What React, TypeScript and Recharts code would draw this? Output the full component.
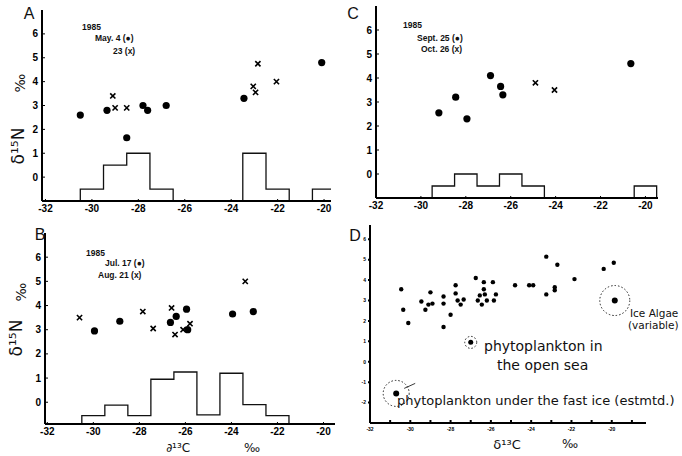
import React from "react";
import { ComposedChart, Line, Scatter, XAxis, YAxis } from "recharts";

// Panel A: 1985 May 4 (dots) / May 23 (crosses)
const A_DOT_X = [-30.5, -29.35, -28.5, -27.8, -27.6, -26.8, -23.45, -20.1];
const A_DOT_Y = [2.6, 2.8, 1.65, 3.0, 2.8, 3.0, 3.3, 4.8];
const A_CROSS_X = [-29.1, -29.0, -28.5, -23.05, -22.95, -22.85, -22.05];
const A_CROSS_Y = [3.4, 2.9, 2.9, 3.8, 3.55, 4.75, 4.0];
const A_BIN_START = [-30.5, -29.5, -28.5, -27.5, -23.5, -22.5, -20.5];
const A_BIN_H = [-0.5, 0.5, 1, -0.5, 1, -0.5, -0.5];

// Panel B: Jul 17 (dots) / Aug 21 (crosses)
const B_DOT_X = [-29.95, -28.85, -26.65, -26.4, -25.95, -25.9, -23.95, -23.05];
const B_DOT_Y = [2.95, 3.35, 3.3, 3.55, 3.85, 3.0, 3.65, 3.75];
const B_CROSS_X = [-30.6, -27.85, -27.4, -26.6, -26.45, -26.1, -25.8, -23.4];
const B_CROSS_Y = [3.5, 3.75, 3.05, 3.9, 2.8, 3.0, 3.25, 5.0];
const B_BIN_START = [-30.5, -29.5, -28.5, -27.5, -26.5, -25.5, -24.5, -23.5, -22.5];
const B_BIN_H = [-0.55, -0.12, -0.55, 0.95, 1.25, -0.52, 1.2, -0.1, -0.55];

// Panel C: Sept 25 (dots) / Oct 26 (crosses)
const C_DOT_X = [-29.2, -28.45, -27.95, -26.9, -26.45, -26.35, -20.65];
const C_DOT_Y = [2.55, 3.2, 2.3, 4.1, 3.65, 3.3, 4.6];
const C_CROSS_X = [-24.9, -24.05];
const C_CROSS_Y = [3.8, 3.5];
const C_BIN_START = [-29.5, -28.5, -27.5, -26.5, -25.5, -20.5];
const C_BIN_H = [-0.5, 0, -0.5, 0, -0.5, -0.5];

// Panel D: all samples + reference end members
const D_X = [-30.45, -30.35, -30.1, -29.45, -29.25, -29.1, -29.0, -28.9, -28.35, -28.35,
  -28.35, -28.0, -27.75, -27.75, -27.65, -27.5, -27.35, -26.75, -26.65, -26.55,
  -26.45, -26.35, -26.35, -26.3, -26.2, -25.9, -25.85, -25.75, -24.8, -24.1,
  -23.9, -23.25, -23.25, -22.83, -22.83, -22.7, -21.85, -20.4, -19.9];
const D_Y = [3.55, 2.55, 1.9, 2.95, 2.55, 2.8, 3.4, 2.85, 3.2, 2.85,
  1.7, 2.3, 3.75, 3.35, 3.0, 2.8, 3.05, 4.1, 3.0, 3.25,
  2.8, 3.9, 3.55, 3.3, 3.0, 3.9, 3.0, 3.3, 3.75, 3.75,
  3.75, 5.15, 3.3, 3.65, 3.5, 4.75, 4.05, 4.55, 4.85];
const RING_X = [-19.85, -27.0, -30.7]; // ice algae, open sea, under fast ice
const RING_Y = [3.0, 0.95, -1.55];
const RING_R = [15, 6, 13];

const ABC_XTICKS = [-32, -30, -28, -26, -24, -22, -20];
const ABC_YTICKS = [0, 1, 2, 3, 4, 5, 6];
const D_XTICKS = [-32, -31, -30, -29, -28, -27, -26, -25, -24, -23, -22, -21, -20, -19];
const D_YTICKS = [-2, -1, 0, 1, 2, 3, 4, 5, 6];

const pts = (xs: number[], ys: number[]) => xs.map((x, i) => ({ x, y: ys[i] }));

// histogram outline as a step line, dropping to the baseline at gaps
function stepPoints(starts: number[], hs: number[], base: number) {
  const out: { x: number; y: number }[] = [];
  starts.forEach((s, i) => {
    if (i === 0 || starts[i - 1] + 1 !== s) out.push({ x: s, y: base });
    out.push({ x: s, y: hs[i] });
    if (i === starts.length - 1 || starts[i + 1] !== s + 1) out.push({ x: s + 1, y: base });
  });
  return out;
}

const Dot = (p: any) => <circle cx={p.cx} cy={p.cy} r={3.6} fill="#000" />;
const SmallDot = (p: any) => <circle cx={p.cx} cy={p.cy} r={2.2} fill="#000" />;
const Cross = (p: any) => {
  const d = 2.6;
  return (
    <path
      d={`M${p.cx - d},${p.cy - d}L${p.cx + d},${p.cy + d}M${p.cx + d},${p.cy - d}L${p.cx - d},${p.cy + d}`}
      stroke="#000"
      strokeWidth={1.6}
    />
  );
};
const Ring = (p: any) => {
  const i = RING_X.indexOf(p.payload?.x);
  const r = RING_R[i] ?? 10;
  return (
    <g>
      <circle cx={p.cx} cy={p.cy} r={r} fill="none" stroke="#222" strokeWidth={1} strokeDasharray="1.5 2" />
      <circle cx={p.cx} cy={p.cy} r={i === 1 ? 2.5 : 3} fill="#000" />
      {i === 2 && <line x1={p.cx + 8} y1={p.cy - 5} x2={p.cx + 19} y2={p.cy - 10} stroke="#222" strokeWidth={0.9} />}
    </g>
  );
};

const tickFont = { fontSize: 10, fontWeight: 700, fill: "#000", fontFamily: "Liberation Sans" };
const axisLine = { stroke: "#000", strokeWidth: 2 };

type PanelProps = {
  left: number; top: number; width: number; height: number;
  margin: { top: number; right: number; bottom: number; left: number };
  xDomain: [number, number]; yDomain: [number, number];
  dots: { x: number; y: number }[]; crosses: { x: number; y: number }[];
  binStart: number[]; binH: number[];
};

function Panel(props: PanelProps) {
  const hist = stepPoints(props.binStart, props.binH, props.yDomain[0]);
  return (
    <div style={{ position: "absolute", left: props.left, top: props.top }}>
      <ComposedChart width={props.width} height={props.height} margin={props.margin}>
        <XAxis type="number" dataKey="x" domain={props.xDomain} allowDataOverflow ticks={ABC_XTICKS}
          height={20} axisLine={axisLine} tickLine={{ stroke: "#000" }} tickSize={-2} tickMargin={6} tick={tickFont} />
        <YAxis type="number" dataKey="y" domain={props.yDomain} allowDataOverflow ticks={ABC_YTICKS}
          width={30} axisLine={axisLine} tickLine={{ stroke: "#000" }} tickSize={-3} tickMargin={7} tick={tickFont} />
        <Line data={hist} dataKey="y" type="stepAfter" stroke="#111" strokeWidth={1.3} dot={false} activeDot={false} isAnimationActive={false} />
        <Scatter data={props.dots} dataKey="y" shape={Dot} isAnimationActive={false} />
        <Scatter data={props.crosses} dataKey="y" shape={Cross} isAnimationActive={false} />
      </ComposedChart>
    </div>
  );
}

function PanelD() {
  return (
    <div style={{ position: "absolute", left: 340, top: 220 }}>
      <ComposedChart width={342} height={236} margin={{ top: 5, right: 36, bottom: 19, left: 10 }}>
        <XAxis type="number" dataKey="x" domain={[-32, -18.3]} allowDataOverflow ticks={D_XTICKS}
          height={14} axisLine={axisLine} tickLine={{ stroke: "#000", strokeWidth: 2 }} tickSize={-3} tickMargin={7}
          tickFormatter={(v: number) => (v % 2 === 0 ? String(v) : "")}
          tick={{ fontSize: 5, fontWeight: 700, fill: "#000", fontFamily: "Liberation Sans" }} />
        <YAxis type="number" dataKey="y" domain={[-3, 6.7]} allowDataOverflow ticks={D_YTICKS}
          width={20} axisLine={axisLine} tickLine={{ stroke: "#000", strokeWidth: 2 }} tickSize={2} tickMargin={2}
          tick={{ fontSize: 5, fontWeight: 700, fill: "#000", fontFamily: "Liberation Sans" }} />
        <Scatter data={pts(D_X, D_Y)} dataKey="y" shape={SmallDot} isAnimationActive={false} />
        <Scatter data={pts(RING_X, RING_Y)} dataKey="y" shape={Ring} isAnimationActive={false} />
      </ComposedChart>
    </div>
  );
}

function T(p: { x: number; y: number; size: number; bold?: boolean; rot?: boolean; center?: boolean; family?: string; children: React.ReactNode }) {
  const tr = p.rot ? "translate(-50%,-50%) rotate(-90deg)" : p.center ? "translate(-50%,-50%)" : "translateY(-50%)";
  return (
    <div style={{
      position: "absolute", left: p.x, top: p.y, transform: tr, whiteSpace: "pre", lineHeight: 1,
      fontSize: p.size, fontWeight: p.bold ? 700 : 400, color: "#111",
      fontFamily: p.family ?? "Liberation Sans",
    }}>{p.children}</div>
  );
}

const HAND = "DejaVu Sans";

export default function App() {
  return (
    <div style={{ position: "absolute", left: 0, top: 0, width: 682, height: 456, background: "#fff", overflow: "hidden" }}>
      <Panel left={0} top={0} width={340} height={230} margin={{ top: 10, right: 9, bottom: 9, left: 12 }}
        xDomain={[-32.15, -19.7]} yDomain={[-1, 7]}
        dots={pts(A_DOT_X, A_DOT_Y)} crosses={pts(A_CROSS_X, A_CROSS_Y)} binStart={A_BIN_START} binH={A_BIN_H} />
      <Panel left={340} top={0} width={342} height={230} margin={{ top: 6, right: 24, bottom: 12, left: 6 }}
        xDomain={[-32, -19.44]} yDomain={[-1, 7]}
        dots={pts(C_DOT_X, C_DOT_Y)} crosses={pts(C_CROSS_X, C_CROSS_Y)} binStart={C_BIN_START} binH={C_BIN_H} />
      <Panel left={0} top={220} width={340} height={236} margin={{ top: 13, right: 5, bottom: 12, left: 15 }}
        xDomain={[-32.1, -19.5]} yDomain={[-0.9, 7]}
        dots={pts(B_DOT_X, B_DOT_Y)} crosses={pts(B_CROSS_X, B_CROSS_Y)} binStart={B_BIN_START} binH={B_BIN_H} />
      <PanelD />

      {/* panel letters */}
      <T x={29} y={14} size={16} center>A</T>
      <T x={353} y={14} size={16} center>C</T>
      <T x={40} y={235} size={16} center>B</T>
      <T x={355} y={236} size={16} center>D</T>

      {/* sampling dates */}
      <T x={82} y={27} size={8.5} bold>1985</T>
      <T x={95} y={38} size={8.5} bold>May. 4 (●)</T>
      <T x={113} y={51} size={8.5} bold>23 (x)</T>
      <T x={403} y={25} size={8.5} bold>1985</T>
      <T x={417} y={38} size={8.5} bold>Sept. 25 (●)</T>
      <T x={421} y={49} size={8.5} bold>Oct. 26 (x)</T>
      <T x={86} y={253} size={8.5} bold>1985</T>
      <T x={105} y={263} size={8.5} bold>Jul. 17 (●)</T>
      <T x={98} y={275} size={8.5} bold>Aug. 21 (x)</T>

      {/* axis titles */}
      <T x={18} y={146} size={17} rot family={HAND}>δ¹⁵N</T>
      <T x={20} y={83} size={14} rot family={HAND}>‰</T>
      <T x={16} y={338} size={17} rot family={HAND}>δ¹⁵N</T>
      <T x={21} y={292} size={14} rot family={HAND}>‰</T>
      <T x={178} y={448} size={12} center family={HAND}>∂¹³C</T>
      <T x={252} y={448} size={12} center family={HAND}>‰</T>
      <T x={507} y={444} size={13} center family={HAND}>δ¹³C</T>
      <T x={570} y={444} size={12} center family={HAND}>‰</T>

      {/* annotations in D */}
      <T x={630} y={313} size={10.5} family={HAND}>Ice Algae</T>
      <T x={628} y={325} size={10.5} family={HAND}>(variable)</T>
      <T x={484} y={346} size={14} family={HAND}>phytoplankton in</T>
      <T x={497} y={365} size={14} family={HAND}>the open sea</T>
      <T x={397} y={400} size={13} family={HAND}>phytoplankton under the fast ice (estmtd.)</T>
    </div>
  );
}
